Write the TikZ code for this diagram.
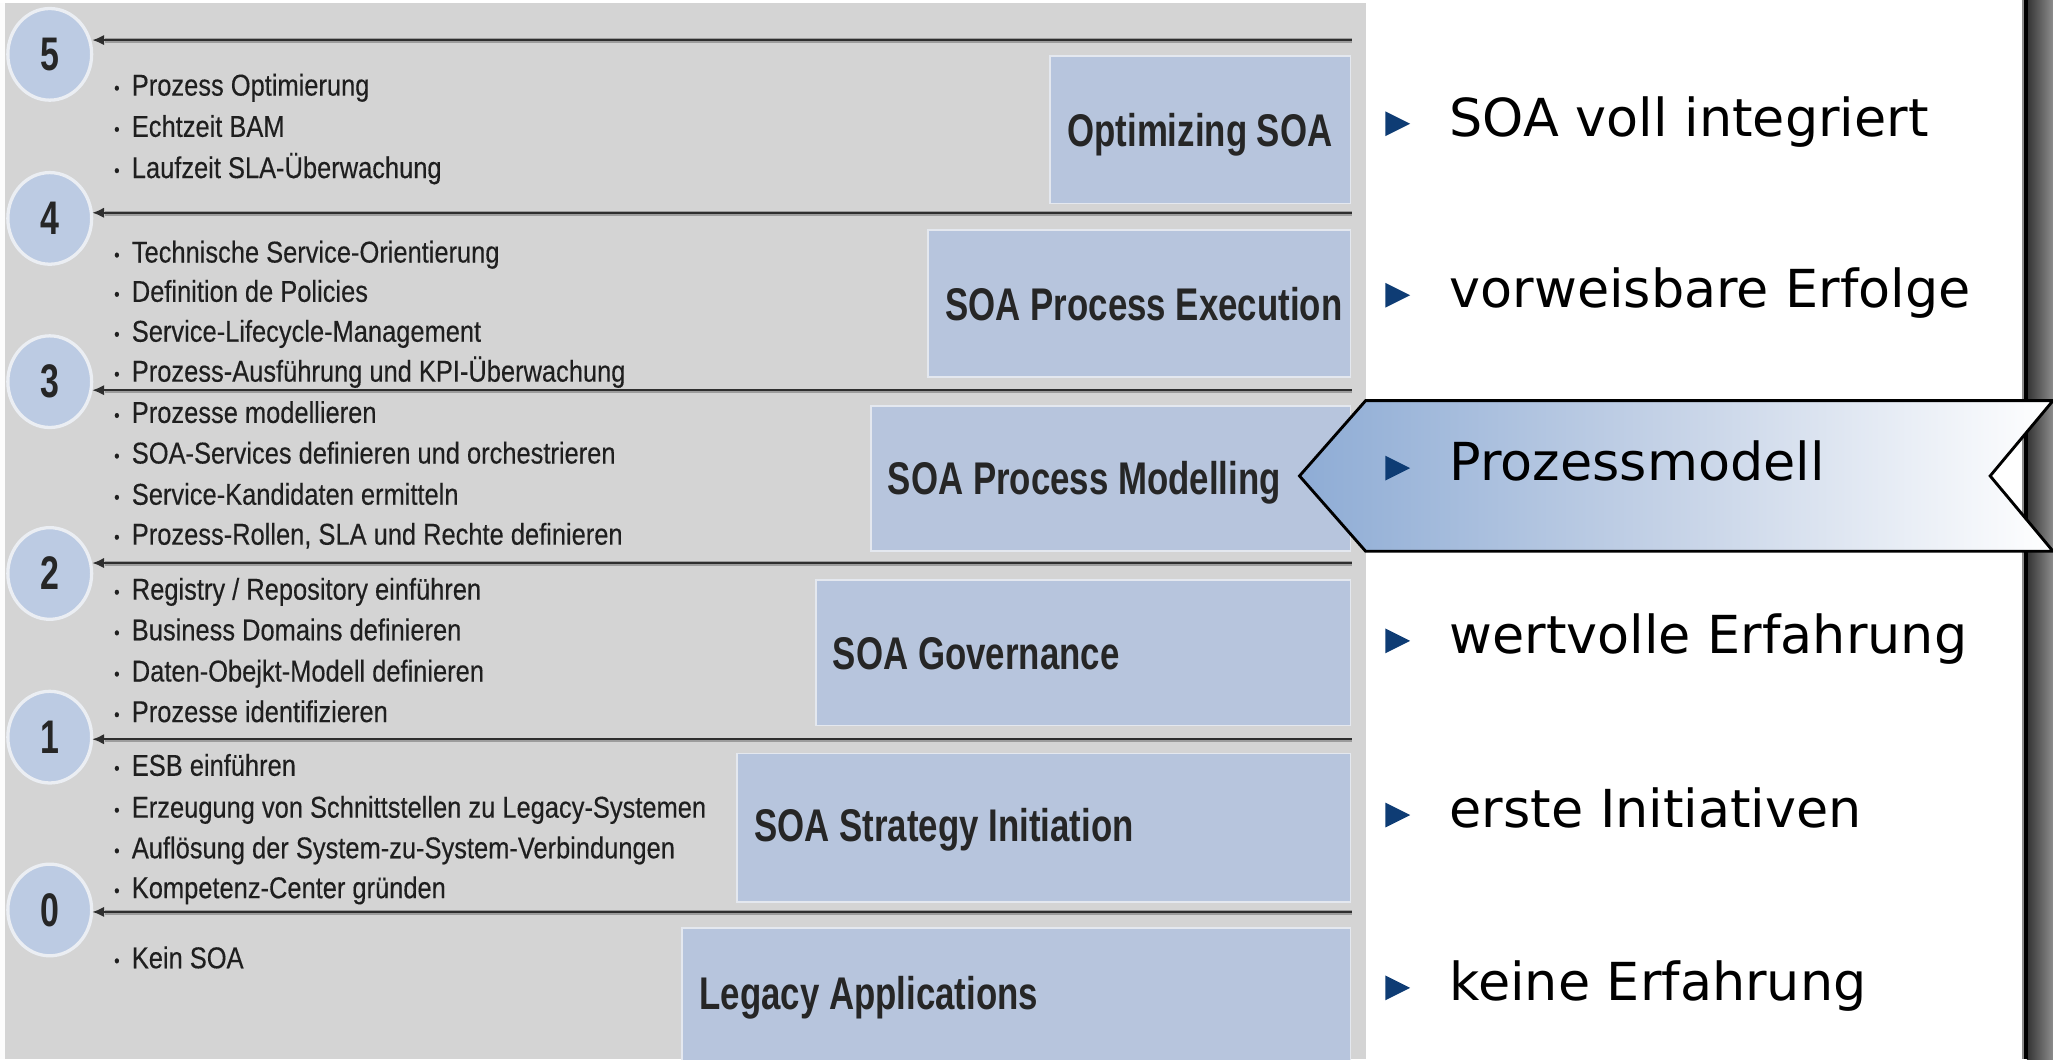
\documentclass[tikz,border=0pt]{standalone}
\usepackage{fontspec}
\setmainfont{Liberation Sans}
\newfontfamily\narrowfont[FakeStretch=0.845,FakeBold=0.3]{Liberation Sans}
\newfontfamily\labelfont[FakeStretch=0.76]{Liberation Sans}
\newfontfamily\digitfont[FakeStretch=0.72]{Liberation Sans}
\newfontfamily\rightfont{DejaVu Sans}
\usetikzlibrary{arrows.meta,shapes.geometric}
\definecolor{panelgray}{HTML}{D4D4D4}
\definecolor{boxblue}{HTML}{B7C5DD}
\definecolor{boxedge}{HTML}{E4E8EF}
\definecolor{circblue}{HTML}{BCCBE3}
\definecolor{circedge}{HTML}{EBEEF3}
\definecolor{lineDark}{HTML}{2E2E2E}
\definecolor{lineLight}{HTML}{9C9C9C}
\definecolor{calblue}{HTML}{8EACD5}
\definecolor{calmid}{HTML}{C6D3E7}
\definecolor{tridark}{HTML}{0E3C74}
\tikzset{
  bul/.style={anchor=base west, inner sep=0pt, text=black!88, font=\narrowfont\fontsize{23}{23}\selectfont},
  lvlbox/.style={fill=boxblue, draw=boxedge, line width=1.3pt},
  lbl/.style={anchor=base west, inner sep=0pt, text=black!85, font=\labelfont\bfseries\fontsize{35}{35}\selectfont},
  numc/.style={ellipse, minimum width=64pt, minimum height=70pt, inner sep=0pt, fill=circblue, draw=circedge, line width=2.5pt, text=black!85, font=\digitfont\bfseries\fontsize{36}{36}\selectfont},
  lvlshadow/.style={draw=lineLight, line width=3.6pt},
  lvlarrow/.style={draw=lineDark, line width=1.5pt, -{Latex[length=9pt,width=8pt]}},
  rtext/.style={anchor=base west, inner sep=0pt, text=black, font=\rightfont\fontsize{40}{40}\selectfont},
  tri/.style={fill=tridark},
  callout/.style={draw=black, line width=2.2pt, line join=miter, left color=calblue, right color=white, middle color=calmid}
}
\newcommand{\bp}{\makebox[13.5pt][l]{\fontsize{14}{14}\selectfont\raisebox{1pt}{•}}}
\begin{document}
\begin{tikzpicture}[x=1pt,y=-1pt]
\useasboundingbox (0,0) rectangle (1568,809);
% backgrounds
\fill[white] (0,0) rectangle (1568,809);
\fill[panelgray] (0,2.5) rectangle (1043,809);
\fill[white!92!panelgray] (0,2.5) rectangle (4,809);
% right dark bar
\shade[left color=black!80, right color=black!45] (1548,0) rectangle (1568,809);
\fill[black] (1545.5,0) rectangle (1549,809);
\fill[black!45] (1544.5,0) rectangle (1545.5,809);

% level boxes
\draw[lvlbox] (802,42.5) rectangle (1031.5,155.5);
\draw[lvlbox] (709,175.5) rectangle (1031.5,288);
\draw[lvlbox] (665,310) rectangle (1031.5,421);
\draw[lvlbox] (623,443) rectangle (1031.5,554);
\draw[lvlbox] (563,575.5) rectangle (1031.5,689);
\draw[lvlbox] (521,708.5) rectangle (1031.5,812);

% box labels
\node[lbl] (l5) at (815,112) {Optimizing SOA};
\node[lbl] (l4) at (722,244.5) {SOA Process Execution};
\node[lbl] (l3) at (678,378) {SOA Process Modelling};
\node[lbl] (l2) at (636,511) {SOA Governance};
\node[lbl] (l1) at (576,643) {SOA Strategy Initiation};
\node[lbl] (l0) at (534,771) {Legacy Applications};

% circles
\node[numc] (c5) at (38,41.5) {5};
\node[numc] (c4) at (38,166.8) {4};
\node[numc] (c3) at (38,291.5) {3};
\node[numc] (c2) at (38,438) {2};
\node[numc] (c1) at (38,563) {1};
\node[numc] (c0) at (38,695) {0};

% level lines
\foreach \n/\yy in {5/30.6,4/162.5,3/298,2/430,1/564.6,0/696.5}{
  \coordinate (e\n) at (1032.5,\yy);
  \coordinate (t\n) at (70.5,\yy);
  \draw[lvlshadow] (1032.5,\yy+0.6) -- (80,\yy+0.6);
  \draw[lvlarrow] (e\n) -- (t\n);
}

% bullet texts
\node[bul] (b5a) at (87,73) {\bp Prozess Optimierung};
\node[bul] (b5b) at (87,104.5) {\bp Echtzeit BAM};
\node[bul] (b5c) at (87,136) {\bp Laufzeit SLA-Überwachung};
\node[bul] (b4a) at (87,200.5) {\bp Technische Service-Orientierung};
\node[bul] (b4b) at (87,230.5) {\bp Definition de Policies};
\node[bul] (b4c) at (87,261) {\bp Service-Lifecycle-Management};
\node[bul] (b4d) at (87,291.5) {\bp Prozess-Ausführung und KPI-Überwachung};
\node[bul] (b3a) at (87,323) {\bp Prozesse modellieren};
\node[bul] (b3b) at (87,354) {\bp SOA-Services definieren und orchestrieren};
\node[bul] (b3c) at (87,385.5) {\bp Service-Kandidaten ermitteln};
\node[bul] (b3d) at (87,416) {\bp Prozess-Rollen, SLA und Rechte definieren};
\node[bul] (b2a) at (87,458) {\bp Registry / Repository einführen};
\node[bul] (b2b) at (87,489) {\bp Business Domains definieren};
\node[bul] (b2c) at (87,520.5) {\bp Daten-Obejkt-Modell definieren};
\node[bul] (b2d) at (87,551.5) {\bp Prozesse identifizieren};
\node[bul] (b1a) at (87,592.5) {\bp ESB einführen};
\node[bul] (b1b) at (87,624.5) {\bp Erzeugung von Schnittstellen zu Legacy-Systemen};
\node[bul] (b1c) at (87,655.5) {\bp Auflösung der System-zu-System-Verbindungen};
\node[bul] (b1d) at (87,686) {\bp Kompetenz-Center gründen};
\node[bul] (b0a) at (87,739.5) {\bp Kein SOA};

% callout highlight
\draw[callout] (992.5,363.5) -- (1043,306) -- (1568,306) -- (1520,363.5) -- (1568,421) -- (1043,421) -- cycle;

% right texts
\foreach \n/\yy in {a/104,b/235,c/367,d/499,e/632,f/764}{
  \fill[tri] (1058,\yy-19) -- (1077,\yy-9.5) -- (1058,\yy) -- cycle;
}
\node[rtext] (r5) at (1107,104) {SOA voll integriert};
\node[rtext] (r4) at (1107,235) {vorweisbare Erfolge};
\node[rtext] (r3) at (1107,367) {Prozessmodell};
\node[rtext] (r2) at (1107,499) {wertvolle Erfahrung};
\node[rtext] (r1) at (1107,632) {erste Initiativen};
\node[rtext] (r0) at (1107,764) {keine Erfahrung};
\end{tikzpicture}
\end{document}
